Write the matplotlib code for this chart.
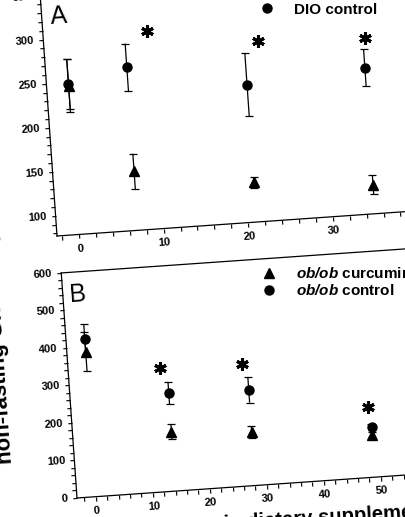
import numpy as np
import matplotlib
matplotlib.use('Agg')
import matplotlib.pyplot as plt
from matplotlib.transforms import Affine2D
from mpl_toolkits.axisartist import floating_axes
from mpl_toolkits.axisartist.grid_finder import FixedLocator, DictFormatter

plt.rcParams['font.family'] = ['Liberation Sans', 'DejaVu Sans']
plt.rcParams['font.weight'] = 'bold'
plt.rcParams['mathtext.fontset'] = 'custom'
plt.rcParams['mathtext.rm'] = 'Liberation Sans:bold'
plt.rcParams['mathtext.bfit'] = 'Liberation Sans:italic:bold'

################################################
# data
################################################
# panel A, DIO mice
days_a = [0, 7, 21, 35]
dio_cur = [246, 144, 122, 110]
dio_cur_err = [30, 20, 6, 11]
dio_ctl = [248, 262, 233, 243]
dio_ctl_err = [28, 27, 36, 21]
star_a_x = [9.7, 22.6, 35.3]
star_a_y = [302, 282, 277]

# panel B, ob/ob mice
days_b = [0, 14, 28, 49]
ob_cur = [387, 158, 143, 112]
ob_cur_err = [52, 20, 15, 8]
ob_ctl = [420, 261, 255, 133]
ob_ctl_err = [40, 30, 34, 8]
star_b_x = [12.8, 27.2, 48.7]
star_b_y = [329, 325, 188]

################################################
# config
################################################
FW, FH = 406, 517       # pixels, dpi 100
ROT = 4                 # the scan is turned a little
tickfs = 8
legfs = 11
letterfs = 18


def panel(fig, xlim, ylim, sx, sy, corner, xticks, xmajor, yticks, ymajor):
  # rotated axes, sx/sy are pixels per data unit, corner is (x0,y0) in pixels
  tr = Affine2D().scale(sx, sy).rotate_deg(ROT)
  gh = floating_axes.GridHelperCurveLinear(
      tr, extremes=(xlim[0], xlim[1], ylim[0], ylim[1]),
      grid_locator1=FixedLocator(xticks),
      tick_formatter1=DictFormatter({v: str(v) for v in xmajor}),
      grid_locator2=FixedLocator(yticks),
      tick_formatter2=DictFormatter({v: str(v) for v in ymajor}))
  box = tr.transform([(xlim[0], ylim[0]), (xlim[1], ylim[0]),
                      (xlim[1], ylim[1]), (xlim[0], ylim[1])])
  lo, hi = box.min(0), box.max(0)
  size = (hi - lo) * 1.02
  lo = lo - (hi - lo) * 0.01
  left = corner[0] - (box[0][0] - lo[0])
  bottom = corner[1] - (box[0][1] - lo[1])
  ax = fig.add_axes([left / FW, bottom / FH, size[0] / FW, size[1] / FH],
                    axes_class=floating_axes.FloatingAxes, grid_helper=gh)
  for side in ['top', 'right']:
    ax.axis[side].major_ticks.set_visible(False)
    ax.axis[side].major_ticklabels.set_visible(False)
  for side in ['left', 'bottom']:
    ax.axis[side].major_ticks.set_tick_out(True)
    ax.axis[side].major_ticks.set_ticksize(3)
    ax.axis[side].major_ticklabels.set_fontsize(tickfs)
    ax.axis[side].major_ticklabels.set_fontweight('bold')
  for side in ['left', 'bottom', 'top', 'right']:
    ax.axis[side].line.set_linewidth(0.9)
  return ax, ax.get_aux_axes(tr)


def draw(aux, x, cur, cur_err, ctl, ctl_err, sx, sy):
  aux.errorbar(x, ctl, yerr=ctl_err, fmt='none', ecolor='k',
               elinewidth=0.9, capsize=3, capthick=0.9)
  aux.errorbar(x, cur, yerr=cur_err, fmt='none', ecolor='k',
               elinewidth=0.9, capsize=3, capthick=0.9)
  h1, = aux.plot(x, cur, ls='none', marker='^', ms=6.5, color='k')
  h2, = aux.plot(x, ctl, ls='none', marker='o', ms=6.5, color='k')
  aux.plot(sx, sy, ls='none', marker=(6, 2, 0), ms=9, mew=2.2, color='k')
  return h1, h2


fig = plt.figure(figsize=(FW / 100, FH / 100), dpi=100)
fig.patch.set_facecolor('white')

############   A   ############
ax_a, aux_a = panel(fig, (-2.6, 42), (77, 360), 8.48, 0.8825, (57, FH - 236),
                    list(range(-2, 42, 2)), [0, 10, 20, 30, 40],
                    list(range(80, 361, 10)), [100, 150, 200, 250, 300, 350])
ha = draw(aux_a, days_a, dio_cur, dio_cur_err, dio_ctl, dio_ctl_err, star_a_x, star_a_y)
aux_a.text(-0.6, 325, 'A', fontsize=letterfs, fontweight='normal', rotation=ROT,
           rotation_mode='anchor', ha='center', va='center')
fig.legend(ha, ['DIO curcumin', 'DIO control'], loc='upper left',
           bbox_to_anchor=(259.3 / FW, 530 / FH), frameon=False, fontsize=legfs,
           handlelength=1.0, handletextpad=1.25, labelspacing=0.1,
           borderpad=0, borderaxespad=0)

############   B   ############
ax_b, aux_b = panel(fig, (-3.3, 62), (0, 600), 5.714, 0.376, (77, FH - 498),
                    list(range(-2, 62, 2)), [0, 10, 20, 30, 40, 50, 60],
                    list(range(0, 601, 20)), [0, 100, 200, 300, 400, 500, 600])
hb = draw(aux_b, days_b, ob_cur, ob_cur_err, ob_ctl, ob_ctl_err, star_b_x, star_b_y)
aux_b.text(-0.75, 540, 'B', fontsize=letterfs, fontweight='normal', rotation=ROT,
           rotation_mode='anchor', ha='center', va='center')
fig.legend(hb, [r'$\mathbfit{ob/ob}$ curcumin', r'$\mathbfit{ob/ob}$ control'],
           loc='upper left', bbox_to_anchor=(261.4 / FW, 250.5 / FH), frameon=False,
           fontsize=legfs, handlelength=1.0, handletextpad=1.25, labelspacing=0.1,
           borderpad=0, borderaxespad=0)

# axis titles, mostly cut off in the scan
fig.text(12 / FW, 54 / FH, 'non-fasting Glucose (mg/dl)', rotation=90 + ROT,
         rotation_mode='anchor', ha='left', va='baseline', fontsize=16,
         fontweight='bold')
fig.text(242 / FW, -12 / FH, 'Days of curcumin', rotation=ROT - 0.5,
         rotation_mode='anchor', ha='right', va='baseline', fontsize=14.6,
         fontweight='bold')
fig.text(247 / FW, -11.5 / FH, 'dietary supplementation', rotation=ROT - 0.5,
         rotation_mode='anchor', ha='left', va='baseline', fontsize=14.6,
         fontweight='bold')

plt.savefig('out.png', dpi=100)
